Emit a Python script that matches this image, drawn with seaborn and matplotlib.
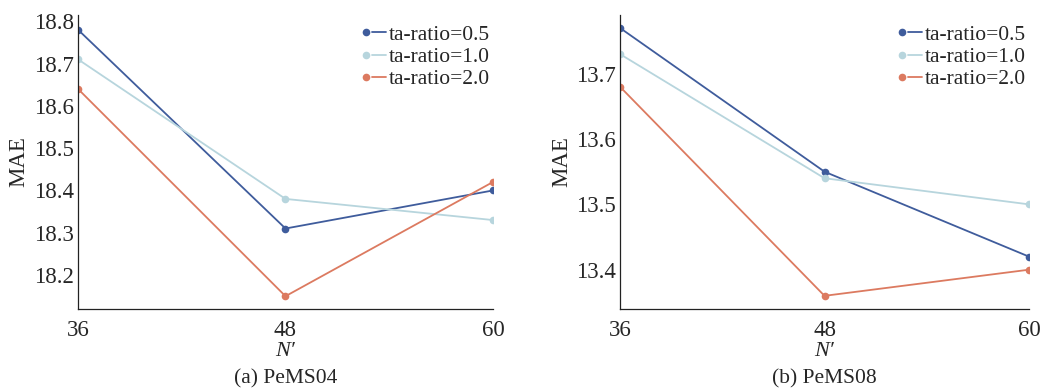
import pandas as pd
import matplotlib.pyplot as plt
import seaborn as sns
from matplotlib.lines import Line2D
from matplotlib.legend_handler import HandlerTuple

# data
n_prime = [36, 48, 60]
ratios = ["ta-ratio=0.5", "ta-ratio=1.0", "ta-ratio=2.0"]
pems04 = {
    "ta-ratio=0.5": [18.78, 18.31, 18.40],
    "ta-ratio=1.0": [18.71, 18.38, 18.33],
    "ta-ratio=2.0": [18.64, 18.15, 18.42],
}
pems08 = {
    "ta-ratio=0.5": [13.77, 13.55, 13.42],
    "ta-ratio=1.0": [13.73, 13.54, 13.50],
    "ta-ratio=2.0": [13.68, 13.36, 13.40],
}
colors = ["#3f5c9c", "#b7d5dd", "#dc7a60"]

sns.set_style("white")
plt.rcParams["font.family"] = ["Liberation Serif", "DejaVu Serif"]


def to_long(d):
    rows = []
    for r in ratios:
        for x, y in zip(n_prime, d[r]):
            rows.append({"N": x, "MAE": y, "ratio": r})
    return pd.DataFrame(rows)


fig = plt.figure(figsize=(10.5, 3.92), dpi=100)
ax1 = fig.add_axes([0.0743, 0.212, 0.3952, 0.75])
ax2 = fig.add_axes([0.5905, 0.212, 0.3895, 0.75])

panels = [
    (ax1, pems04, (18.12, 18.815), [18.2, 18.3, 18.4, 18.5, 18.6, 18.7, 18.8], "(a) PeMS04"),
    (ax2, pems08, (13.34, 13.79), [13.4, 13.5, 13.6, 13.7], "(b) PeMS08"),
]

for ax, d, ylim, yticks, caption in panels:
    df = to_long(d)
    sns.lineplot(data=df, x="N", y="MAE", hue="ratio", palette=colors,
                 marker="o", markersize=5.5, markeredgewidth=0, linewidth=1.3,
                 ax=ax, legend=False)
    ax.set_xlim(36, 60)
    ax.set_ylim(*ylim)
    ax.set_xticks(n_prime)
    ax.set_yticks(yticks)
    ax.set_yticklabels([f"{t:.1f}" for t in yticks])
    ax.tick_params(axis="x", direction="in", length=4, width=0.8, labelsize=16.5, pad=8)
    ax.tick_params(axis="y", length=0, labelsize=16.5, pad=3)
    sns.despine(ax=ax)
    for s in ["left", "bottom"]:
        ax.spines[s].set_color("#222222")
        ax.spines[s].set_linewidth(0.9)
    ax.set_ylabel("MAE", fontsize=16.5, labelpad=3)
    ax.set_xlabel("")

    # N' label and caption placed in figure coordinates under each panel
    bb = ax.get_position()
    xc = (bb.x0 + bb.x1) / 2
    fig.text(xc, 0.104, "N\u2032", ha="center", va="center", fontsize=16, style="italic")
    fig.text(xc, 0.034, caption, ha="center", va="center", fontsize=15.5)

    handles = []
    for c in colors:
        dot = Line2D([], [], color=c, marker="o", markersize=5.5, markeredgewidth=0, linestyle="none")
        seg = Line2D([], [], color=c, linewidth=1.3)
        handles.append((dot, seg))
    ax.legend(handles, ratios, handler_map={tuple: HandlerTuple(ndivide=None, pad=0.0)},
              loc="upper right", bbox_to_anchor=(1.035, 1.025), frameon=False, fontsize=15.5,
              handlelength=1.25, handletextpad=0.15, labelspacing=0.1, borderpad=0.3)

fig.savefig("out.png", dpi=100)
